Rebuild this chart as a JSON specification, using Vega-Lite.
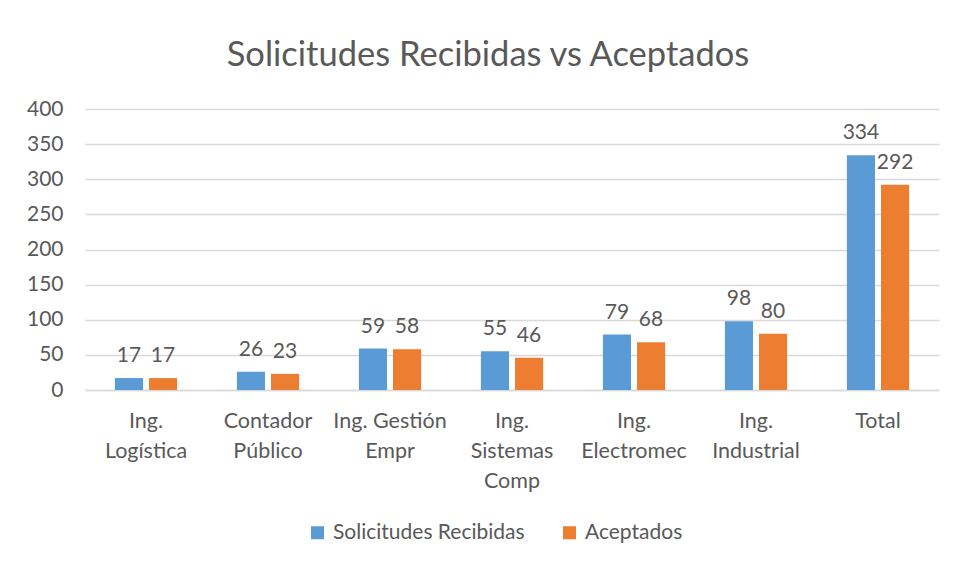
{
  "$schema": "https://vega.github.io/schema/vega-lite/v6.json",
  "width": 854,
  "height": 281,
  "autosize": {"type": "none"},
  "padding": {"left": 85, "top": 109, "right": 17, "bottom": 175},
  "background": "white",
  "title": {
    "text": "Solicitudes Recibidas vs Aceptados",
    "font": "Lato",
    "fontSize": 34.5,
    "fontWeight": "normal",
    "color": "#595959",
    "anchor": "middle",
    "dx": -24,
    "offset": 25
  },
  "config": {
    "view": {"stroke": null},
    "font": "Lato",
    "text": {"font": "Lato"}
  },
  "data": {
    "values": [
      {"cat": "Ing. Logística", "serie": "Solicitudes Recibidas", "value": 17},
      {"cat": "Ing. Logística", "serie": "Aceptados", "value": 17},
      {"cat": "Contador Público", "serie": "Solicitudes Recibidas", "value": 26},
      {"cat": "Contador Público", "serie": "Aceptados", "value": 23},
      {"cat": "Ing. Gestión Empr", "serie": "Solicitudes Recibidas", "value": 59},
      {"cat": "Ing. Gestión Empr", "serie": "Aceptados", "value": 58},
      {"cat": "Ing. Sistemas Comp", "serie": "Solicitudes Recibidas", "value": 55},
      {"cat": "Ing. Sistemas Comp", "serie": "Aceptados", "value": 46},
      {"cat": "Ing. Electromec", "serie": "Solicitudes Recibidas", "value": 79},
      {"cat": "Ing. Electromec", "serie": "Aceptados", "value": 68},
      {"cat": "Ing. Industrial", "serie": "Solicitudes Recibidas", "value": 98},
      {"cat": "Ing. Industrial", "serie": "Aceptados", "value": 80},
      {"cat": "Total", "serie": "Solicitudes Recibidas", "value": 334},
      {"cat": "Total", "serie": "Aceptados", "value": 292}
    ]
  },
  "encoding": {
    "x": {
      "field": "cat",
      "type": "nominal",
      "sort": null,
      "scale": {"paddingInner": 0.49, "paddingOuter": 0.245},
      "axis": {
        "title": null,
        "labelAngle": 0,
        "labelFont": "Lato",
        "labelFontSize": 21.5,
        "labelColor": "#595959",
        "labelLineHeight": 30,
        "labelBaseline": "top",
        "labelPadding": 20,
        "labelLimit": 0,
        "labelExpr": "datum.label == 'Ing. Gestión Empr' ? ['Ing. Gestión', 'Empr'] : split(datum.label, ' ')",
        "ticks": false,
        "domain": true,
        "domainColor": "#d9d9d9",
        "domainWidth": 1.5,
        "grid": false
      }
    },
    "xOffset": {
      "field": "serie",
      "type": "nominal",
      "sort": ["Solicitudes Recibidas", "Aceptados"],
      "scale": {"paddingInner": 0.1765, "paddingOuter": 0}
    },
    "y": {
      "field": "value",
      "type": "quantitative",
      "scale": {"domain": [0, 400]},
      "axis": {
        "title": null,
        "values": [0, 50, 100, 150, 200, 250, 300, 350, 400],
        "labelFont": "Lato",
        "labelFontSize": 21,
        "labelColor": "#595959",
        "labelPadding": 22,
        "ticks": false,
        "domain": false,
        "gridColor": "#d9d9d9",
        "gridWidth": 1.5
      }
    }
  },
  "layer": [
    {
      "mark": {"type": "bar"},
      "encoding": {
        "color": {
          "field": "serie",
          "type": "nominal",
          "scale": {"domain": ["Solicitudes Recibidas", "Aceptados"], "range": ["#5B9BD5", "#ED7D31"]},
          "legend": {
            "title": null,
            "orient": "none",
            "direction": "horizontal",
            "legendX": 222,
            "legendY": 413,
            "symbolType": "square",
            "symbolSize": 169,
            "symbolStrokeWidth": 0,
            "labelFont": "Lato",
            "labelFontSize": 21,
            "labelColor": "#595959",
            "labelOffset": 5,
            "labelLimit": 0,
            "columnPadding": 34
          }
        }
      }
    },
    {
      "mark": {"type": "text", "baseline": "alphabetic", "dy": -16, "fontSize": 21, "color": "#595959", "font": "Lato"},
      "encoding": {
        "text": {"field": "value", "type": "quantitative"}
      }
    }
  ]
}
